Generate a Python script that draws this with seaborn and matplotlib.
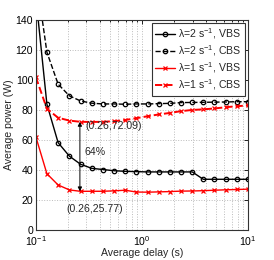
import numpy as np
import pandas as pd
import matplotlib
matplotlib.use('Agg')
import matplotlib.pyplot as plt
import seaborn as sns

# average delay (s), same grid for every curve
delay = [0.1, 0.127, 0.162, 0.207, 0.264, 0.336, 0.428, 0.546, 0.695, 0.886,
         1.13, 1.44, 1.83, 2.34, 2.98, 3.79, 4.83, 6.16, 7.85, 10.0]

# average power (W)
vbs_l2 = [155, 83.8, 58.2, 49.2, 43.8, 41.1, 40.3, 39.5, 39.1, 38.9,
          38.7, 38.7, 38.7, 38.7, 38.7, 33.8, 33.8, 33.8, 33.8, 33.8]
cbs_l2 = [170, 118.5, 97.2, 89.4, 86.0, 84.5, 84.0, 84.0, 83.8, 84.0,
          84.0, 84.2, 84.4, 84.9, 85.0, 85.1, 85.2, 85.3, 85.5, 85.5]
vbs_l1 = [62.0, 37.5, 30.0, 26.7, 25.77, 25.8, 25.8, 26.1, 26.5, 25.3,
          25.2, 25.4, 25.6, 25.9, 26.0, 26.2, 26.5, 26.8, 27.0, 27.2]
cbs_l1 = [101.8, 80.8, 74.8, 72.9, 72.09, 72.0, 72.1, 72.5, 73.3, 74.5,
          75.8, 77.0, 78.0, 79.2, 80.0, 80.4, 81.0, 81.8, 82.5, 83.0]

labels = [r'λ=2 s$^{-1}$, VBS', r'λ=2 s$^{-1}$, CBS',
          r'λ=1 s$^{-1}$, VBS', r'λ=1 s$^{-1}$, CBS']

sns.set_style('white')
plt.rcParams['font.family'] = ['Liberation Sans', 'DejaVu Sans']
plt.rcParams['mathtext.fontset'] = 'custom'
plt.rcParams['mathtext.rm'] = 'Liberation Sans'
plt.rcParams['mathtext.it'] = 'Liberation Sans:italic'
plt.rcParams['mathtext.default'] = 'regular'

fs = 7.6
fig = plt.figure(figsize=(2.74, 2.60), dpi=100)
ax = fig.add_axes([0.131, 0.1154, 0.774, 0.808])

styles = [
    (vbs_l2, 'black', '-', 'o', 1.0, 3.2),
    (cbs_l2, 'black', '--', 'o', 1.0, 3.2),
    (vbs_l1, 'red', '-', 'x', 1.0, 3.0),
    (cbs_l1, 'red', '--', 'x', 1.4, 3.0),
]
for (vals, col, ls, mk, lw, ms), lab in zip(styles, labels):
    df = pd.DataFrame({'delay': delay, 'power': vals})
    sns.lineplot(data=df, x='delay', y='power', ax=ax, color=col, linestyle=ls,
                 marker=mk, markersize=ms, markerfacecolor='none',
                 markeredgecolor=col, markeredgewidth=0.9, linewidth=lw,
                 label=lab)

ax.set_xscale('log')
ax.set_xlim(0.1, 10)
ax.set_ylim(0, 140)
ax.set_yticks(range(0, 141, 20))
ax.grid(True, which='major', ls=':', color='#bbbbbb', lw=0.7)
ax.grid(True, which='minor', axis='x', ls=':', color='#bbbbbb', lw=0.7)
ax.tick_params(which='both', direction='in', top=True, right=True,
               labelsize=fs, colors='black', length=3, width=0.6, pad=2)
ax.tick_params(axis='x', pad=3)
ax.tick_params(which='minor', length=1.5)
for sp in ax.spines.values():
    sp.set_color('#333333')
    sp.set_linewidth(0.8)

ax.set_xlabel('Average delay (s)', fontsize=fs, labelpad=0)
ax.set_ylabel('Average power (W)', fontsize=fs, labelpad=1)

ax.annotate('', xy=(0.26, 72.09), xytext=(0.26, 25.77),
            arrowprops=dict(arrowstyle='<|-|>', color='black', lw=0.7,
                            shrinkA=0, shrinkB=0, mutation_scale=6))
ax.text(0.296, 69.3, '(0.26,72.09)', fontsize=fs, va='center', ha='left')
ax.text(0.285, 52, '64%', fontsize=fs, va='center', ha='left')
ax.text(0.192, 14, '(0.26,25.77)', fontsize=fs, va='center', ha='left')

leg = ax.legend(loc='upper right', fontsize=fs, handlelength=1.9,
                handletextpad=0.3, labelspacing=0.22, borderpad=0.3,
                borderaxespad=0.3, fancybox=False, framealpha=1,
                edgecolor='#333333')
leg.get_frame().set_linewidth(0.8)

fig.savefig('out.png', dpi=100, facecolor='white')
